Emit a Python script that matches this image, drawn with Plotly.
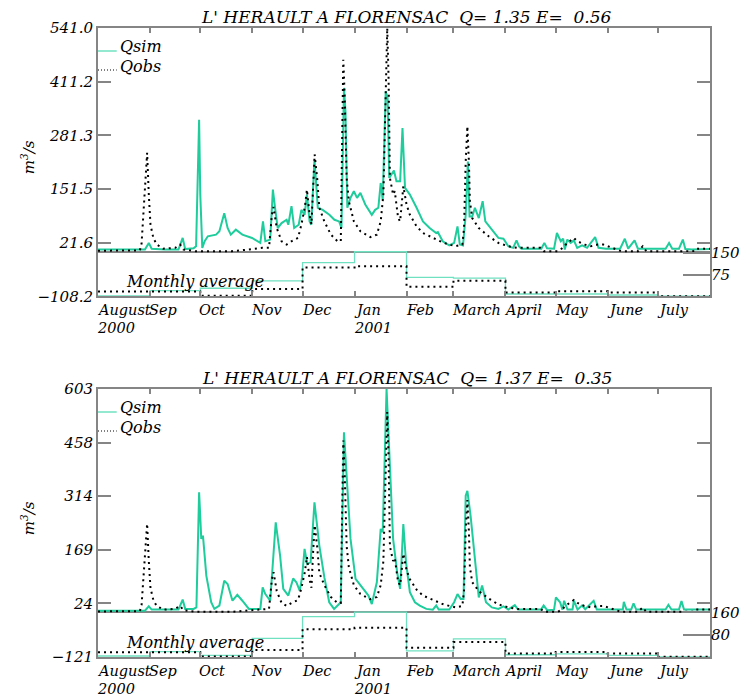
import plotly.graph_objects as go

# ---------------- data ----------------
month_days = [0, 31, 61, 92, 122, 153, 184, 212, 243, 273, 304, 334, 365]
month_labels = ["August", "Sep", "Oct", "Nov", "Dec", "Jan", "Feb", "March", "April", "May", "June", "July"]
year_labels = [(0, "2000"), (153, "2001")]

# observed discharge (days since 1 Aug 2000, m3/s)
obs_days = [0, 10, 20, 25, 26, 28, 29.3, 30.3, 31.3, 33, 35, 39, 46, 49, 51, 58, 70, 80, 90, 98, 102,
            103.7, 104.7, 106.6, 109.5, 112.5, 115.4, 119.3, 121.3, 123.4, 124.6, 126.2, 127.3, 128.2, 129.2,
            130.7, 132, 135, 138.9, 142.8, 144.8, 145.7, 146.3, 147.1, 148.3, 149.6, 152.6, 156.5, 162.4,
            166.3, 168.6, 170.2, 171.8, 172.5, 173.3, 174.1, 176, 177, 179, 180.2, 182.1, 184, 186, 190,
            193.8, 199.7, 205.6, 209.5, 213.4, 217.3, 218.3, 219.3, 220.3, 221.2, 221.8, 223.2, 227.1, 233,
            238.8, 244.7, 250, 264, 266, 274, 276, 280, 283.8, 286, 290, 294, 298, 301.4, 307.3, 312, 322,
            324.9, 327, 355, 356.2, 365]
obs_vals = [2, 2, 2, 3, 20, 138, 239, 138, 65, 33, 17, 7, 9, 17, 5, 1, 1, 1, 5, 9, 9,
            89, 108, 57, 25, 17, 25, 33, 65, 109, 150, 89, 66, 154, 235,
            178, 106, 73, 41, 25, 25, 299, 464, 380, 178, 122, 73, 49, 35,
            41, 73, 138, 380, 541, 420, 178, 138, 146, 81, 73, 158, 114, 89, 61,
            45, 33, 22, 17, 13, 17, 57, 218, 303, 218, 122, 81, 57, 37,
            21, 13, 9, 9, 1, 1, 5, 21, 33, 25, 17, 13, 17, 17, 9, 1, 1,
            13, 1, 1, 7, 7]

# simulated discharge, run 1 (top panel)
sim1_days = [0, 25, 28, 30.3, 32, 40, 48, 50.5, 52, 57, 58.5, 60.3, 61, 62.2, 63.6, 65.5, 70.4, 72.4,
             75.3, 77.3, 79.2, 82.2, 86.1, 91.9, 96.8, 98.4, 99.8, 102.7, 104.3, 105.6, 107.2, 109.5,
             112.5, 113.5, 115.4, 117, 119.7, 121.3, 123.2, 124.6, 126.2, 127.2, 129.1, 131.1, 134,
             138, 141, 143.8, 145.2, 146.7, 147.6, 148.7, 150.6, 152.6, 154.5, 156.5, 159.4, 163.3,
             165.3, 167.2, 168.6, 169.8, 171.6, 172.7, 173.7, 176.5, 178, 180.2, 181.6, 183.1, 186,
             190, 193.8, 197.8, 201.7, 202.7, 205.6, 209.5, 212.4, 214.4, 215.8, 217.7, 219.3, 220.6,
             221.6, 223.2, 224.8, 227.1, 229.4, 231, 234.9, 238.8, 241.8, 244.7, 247.6, 249.6, 251,
             252.5, 264.4, 266.2, 267.8, 272, 273.7, 276, 277.4, 278.4, 279.9, 281.9, 283.8, 285.8,
             288.7, 291.7, 296.5, 298.5, 303, 311.4, 314.2, 316.2, 320, 322, 338.5, 340.6, 342.5,
             346.5, 348.8, 350.3, 354, 365]
sim1_vals = [5, 5, 5, 21, 7, 5, 5, 33, 6, 8, 13, 319, 138, 9, 25, 37, 41, 49,
             93, 57, 41, 53, 41, 33, 21, 73, 25, 29, 150, 106, 57, 69,
             77, 65, 110, 57, 65, 101, 89, 138, 73, 65, 222, 106, 101,
             89, 77, 73, 57, 396, 339, 106, 130, 146, 130, 142, 114, 89,
             101, 106, 166, 125, 388, 372, 178, 196, 170, 170, 299, 154, 138,
             106, 73, 57, 45, 47, 25, 15, 21, 61, 17, 15, 89, 218,
             85, 85, 106, 81, 122, 73, 53, 33, 31, 13, 9, 27, 13,
             7, 7, 21, 8, 7, 45, 25, 31, 5, 29, 21, 27, 9,
             15, 9, 35, 9, 7, 7, 31, 7, 27, 7, 7, 21, 7,
             7, 29, 6, 5, 6]

# simulated discharge, run 2 (bottom panel)
sim2_days = [0, 25, 28, 30.3, 32, 48, 50.5, 52, 57, 58.7, 60.3, 61.6, 62.6, 64.6, 67.5, 69.4, 72.4, 75.3,
             77.3, 80.2, 83.1, 86.1, 90, 96.8, 98.2, 99.8, 102.7, 106, 108.6, 110.5, 113.5, 116.4,
             118.3, 120.3, 121.7, 123.2, 124.8, 126.8, 129.1, 132, 135, 137.9, 140.8, 143.8, 144.8,
             146.7, 148.7, 150.6, 153.6, 156.5, 159.4, 161.3, 163.3, 166.3, 168.6, 169.8, 172.1,
             174.1, 176, 178.4, 180.2, 182.1, 183.7, 186, 189, 191.9, 195.8, 199.7, 201.7, 203.2,
             209.5, 212.4, 214.4, 216.3, 218, 219.3, 220.3, 222.2, 224.8, 227.1, 229.1, 231.4, 234.9,
             238.8, 241.8, 244.7, 248.6, 250.5, 264.2, 265.8, 268, 272, 273.1, 275.6, 277, 278, 280,
             283, 283.8, 286, 288.7, 290.6, 295.6, 297.5, 313, 313.6, 315.2, 318, 319.4, 321, 338.5,
             340.2, 342, 346.5, 348, 349.5, 365]
sim2_vals = [4, 4, 4, 16, 7, 7, 34, 9, 9, 13, 324, 198, 207, 99, 27, 9, 18, 85,
             76, 31, 47, 31, 9, 9, 67, 49, 31, 243, 153, 63, 45, 91,
             81, 58, 94, 171, 130, 135, 297, 180, 94, 27, 9, 22, 27,
             486, 333, 198, 90, 72, 54, 45, 22, 81, 225, 216, 603,
             396, 198, 108, 63, 238, 135, 54, 27, 18, 9, 7, 18, 7,
             7, 27, 49, 36, 36, 315, 328, 261, 135, 40, 72, 27, 13,
             9, 16, 7, 19, 7, 7, 18, 5, 7, 40, 27, 7, 31, 7,
             7, 31, 7, 18, 8, 31, 7, 7, 28, 7, 7, 24, 7, 7,
             20, 7, 7, 30, 7, 7]

# monthly averages (m3/s), Aug 2000 .. Jul 2001
obs_month = [17, 17, 2, 25, 100, 105, 33, 54, 13, 18, 13, 0.5]
sim1_month = [1, 19.5, 28, 54, 117, 155, 66, 63, 8, 8, 4.5, 0.5]
sim2_month = [3.6, 19, 6, 67, 145, 161, 22, 65, 8, 11, 6, 0.5]

titles = ["L' HERAULT A FLORENSAC\u00a0\u00a0Q= 1.35 E=\u00a0\u00a00.56",
          "L' HERAULT A FLORENSAC\u00a0\u00a0Q= 1.37 E=\u00a0\u00a00.35"]
left_ticks = [[-108.2, 21.6, 151.5, 281.3, 411.2, 541.0], [-121, 24, 169, 314, 458, 603]]
left_text = [["\u2212108.2", "21.6", "151.5", "281.3", "411.2", "541.0"],
             ["\u2212121", "24", "169", "314", "458", "603"]]
right_ticks = [[75, 150], [80, 160]]
right_max = [934, 963]

# ---------------- style ----------------
W, H = 752, 698
ML, MR, MT, MB = 98, 32, 28, 41
PW, PH = W - ML - MR, H - MT - MB
SIM = "#1fcc9c"
SIM_M = "#6fe0c0"
GREY = "#858585"
FONT = "DejaVu Serif"


def px(x):
    return (x - ML) / PW


def py(y):
    return (H - MB - y) / PH


panels = [dict(top=28, bottom=296.3), dict(top=389, bottom=657)]
sims = [(sim1_days, sim1_vals, sim1_month), (sim2_days, sim2_vals, sim2_month)]

fig = go.Figure()
month_step_x = month_days

for i, p in enumerate(panels):
    xa = "x" if i == 0 else "x2"
    ya = "y" if i == 0 else "y3"
    ya_r = "y2" if i == 0 else "y4"
    sd, sv, sm = sims[i]
    fig.add_trace(go.Scatter(x=sd, y=sv, mode="lines", xaxis=xa, yaxis=ya,
                             line=dict(color=SIM, width=2), showlegend=False))
    fig.add_trace(go.Scatter(x=obs_days, y=obs_vals, mode="lines", xaxis=xa, yaxis=ya,
                             line=dict(color="black", width=2, dash="2px,4px"), showlegend=False))
    fig.add_trace(go.Scatter(x=month_step_x, y=sm + [sm[-1]], mode="lines", xaxis=xa, yaxis=ya_r,
                             line=dict(color=SIM_M, width=1.3, shape="hv"), showlegend=False))
    fig.add_trace(go.Scatter(x=month_step_x, y=obs_month + [obs_month[-1]], mode="lines", xaxis=xa, yaxis=ya_r,
                             line=dict(color="black", width=2, dash="2px,4px", shape="hv"), showlegend=False))

tickfont = dict(family=FONT, size=15, color="black", style="italic")

common_x = dict(range=[0, 365], tickvals=month_days, showticklabels=False, ticks="inside", ticklen=5,
                tickcolor=GREY, tickwidth=1.5, showline=True, linecolor=GREY, linewidth=2, mirror="ticks",
                showgrid=False, zeroline=False)
common_y = dict(ticks="inside", ticklen=13, tickcolor=GREY, tickwidth=1.5, showline=True, linecolor=GREY,
                linewidth=2, mirror="ticks", showgrid=False, zeroline=True, zerolinecolor=GREY,
                zerolinewidth=1.5, tickfont=tickfont)
common_r = dict(side="right", ticks="inside", ticklen=27, tickcolor=GREY, tickwidth=1.5, showline=False,
                showgrid=False, zeroline=False, tickfont=tickfont)

d0 = [py(panels[0]["bottom"]), 1]
d1 = [0, py(panels[1]["top"])]

fig.update_layout(
    xaxis=dict(domain=[0, 1], anchor="y", **common_x),
    xaxis2=dict(domain=[0, 1], anchor="y3", **common_x),
    yaxis=dict(domain=d0, anchor="x", range=[left_ticks[0][0], left_ticks[0][-1]], tickvals=left_ticks[0],
               ticktext=left_text[0], **common_y),
    yaxis2=dict(overlaying="y", anchor="x", range=[0, right_max[0]], tickvals=right_ticks[0],
                ticktext=[str(v) for v in right_ticks[0]], **common_r),
    yaxis3=dict(domain=d1, anchor="x2", range=[left_ticks[1][0], left_ticks[1][-1]], tickvals=left_ticks[1],
                ticktext=left_text[1], **common_y),
    yaxis4=dict(overlaying="y3", anchor="x2", range=[0, right_max[1]], tickvals=right_ticks[1],
                ticktext=[str(v) for v in right_ticks[1]], **common_r),
    width=W, height=H, margin=dict(l=ML, r=MR, t=MT, b=MB),
    paper_bgcolor="white", plot_bgcolor="white", showlegend=False,
)

ann = []
shapes = []
lab_font = dict(family=FONT, size=14.5, color="black", style="italic")
for i, p in enumerate(panels):
    top, bot = p["top"], p["bottom"]
    xref = "x" if i == 0 else "x2"
    ann.append(dict(text=titles[i], xref="paper", yref="paper", x=px(412), y=py(top - 11),
                    xanchor="center", yanchor="middle", showarrow=False,
                    font=dict(family=FONT, size=17, color="black", style="italic")))
    ann.append(dict(text="m<sup>3</sup>/s", xref="paper", yref="paper", x=px(27), y=py(top + 129),
                    xanchor="center", yanchor="middle", textangle=-90, showarrow=False,
                    font=dict(family=FONT, size=15, color="black", style="italic")))
    for d, lab in zip(month_days, month_labels):
        ann.append(dict(text=lab, xref=xref, yref="paper", x=d, y=py(bot + 14), xanchor="left",
                        yanchor="middle", showarrow=False, font=lab_font, xshift=-3))
    for d, lab in year_labels:
        ann.append(dict(text=lab, xref=xref, yref="paper", x=d, y=py(bot + 32), xanchor="left",
                        yanchor="middle", showarrow=False, font=lab_font, xshift=-3))
    ann.append(dict(text="Monthly average", xref="paper", yref="paper", x=px(124), y=py(bot - 15),
                    xanchor="left", yanchor="middle", showarrow=False,
                    font=dict(family=FONT, size=16, color="black", style="italic")))
    ann.append(dict(text="Qsim", xref="paper", yref="paper", x=px(118), y=py(top + 19),
                    xanchor="left", yanchor="middle", showarrow=False,
                    font=dict(family=FONT, size=16, color="black", style="italic")))
    ann.append(dict(text="Qobs", xref="paper", yref="paper", x=px(118), y=py(top + 38),
                    xanchor="left", yanchor="middle", showarrow=False,
                    font=dict(family=FONT, size=16, color="black", style="italic")))
    shapes.append(dict(type="line", xref="paper", yref="paper", x0=0, x1=px(117),
                       y0=py(top + 23), y1=py(top + 23), line=dict(color=SIM_M, width=1.5)))
    shapes.append(dict(type="line", xref="paper", yref="paper", x0=0, x1=px(117),
                       y0=py(top + 42), y1=py(top + 42), line=dict(color="black", width=1, dash="1px,2px")))

fig.update_layout(annotations=ann, shapes=shapes)
fig.write_html("out.html", config={"displayModeBar": False},
               post_script="document.body.style.margin='0';document.body.style.padding='0';"
                           "document.body.style.overflow='hidden';")
